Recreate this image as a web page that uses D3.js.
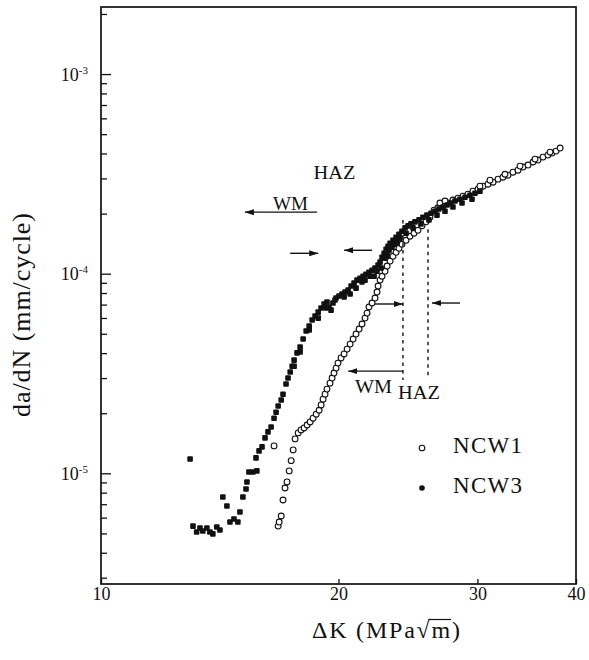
<!DOCTYPE html>
<html><head><meta charset="utf-8">
<script src="https://cdn.jsdelivr.net/npm/d3@7"></script>
<style>
body{margin:0;background:#fff}
svg{display:block}
text{font-family:"Liberation Serif","Times New Roman",serif;fill:#111}
</style>
</head><body>
<svg id="c" width="589" height="660"></svg>
<script>
// ---------- data ----------
const xTickValues = [10, 20, 30, 40];
const xTickLabels = ["10", "20", "30", "40"];
const yTickValues = [1e-5, 1e-4, 1e-3];
const yTickExponents = ["-5", "-4", "-3"];
const seriesNames = ["NCW1", "NCW3"];

const ncw1DeltaK = [
 16.57,16.77,16.82,16.92,17.01,17.11,17.21,17.32,17.42,17.52,
 17.62,17.78,17.93,18.09,18.25,18.41,18.57,18.74,18.90,19.01,
 19.12,19.23,19.34,19.51,19.63,19.74,19.86,19.97,20.15,20.33,
 20.51,20.69,20.87,21.05,21.24,21.42,21.61,21.74,21.86,22.06,
 22.25,22.38,22.45,22.58,22.71,22.91,23.05,23.25,23.45,23.66,
 23.86,24.07,24.36,24.64,24.93,25.22,25.52,25.82,26.12,26.43,
 26.73,27.13,27.53,27.93,28.35,28.76,29.18,29.61,30.05,30.49,
 30.94,31.40,31.86,32.32,32.80,33.28,33.77,34.27,34.78,35.29,
 35.80,36.33,36.86,37.30,37.74,38.19,
 26.89,27.29,31.12,32.51,33.97,35.49,37.08,30.22];
const ncw1Rate = [
 1.372e-5,5.44e-6,5.70e-6,6.11e-6,7.35e-6,8.44e-6,9.05e-6,1.028e-5,1.157e-5,1.31e-5,
 1.487e-5,1.594e-5,1.65e-5,1.687e-5,1.746e-5,1.808e-5,1.888e-5,1.977e-5,2.07e-5,2.20e-5,
 2.353e-5,2.492e-5,2.641e-5,2.83e-5,3.00e-5,3.178e-5,3.365e-5,3.565e-5,3.784e-5,3.963e-5,
 4.19e-5,4.44e-5,4.705e-5,4.985e-5,5.282e-5,5.596e-5,5.99e-5,6.347e-5,6.81e-5,7.13e-5,
 7.55e-5,8.09e-5,8.67e-5,9.29e-5,9.71e-5,1.028e-4,1.092e-4,1.157e-4,1.222e-4,1.28e-4,
 1.34e-4,1.404e-4,1.47e-4,1.54e-4,1.594e-4,1.65e-4,1.736e-4,1.818e-4,1.919e-4,2.08e-4,
 2.134e-4,2.184e-4,2.26e-4,2.34e-4,2.389e-4,2.445e-4,2.502e-4,2.59e-4,2.65e-4,2.744e-4,
 2.807e-4,2.873e-4,2.975e-4,3.044e-4,3.115e-4,3.225e-4,3.30e-4,3.422e-4,3.502e-4,3.626e-4,
 3.71e-4,3.838e-4,3.927e-4,4.019e-4,4.112e-4,4.259e-4,
 2.26e-4,2.313e-4,2.94e-4,3.149e-4,3.46e-4,3.75e-4,4.066e-4,2.744e-4];

const ncw3DeltaK = [
 12.97,13.08,13.22,13.35,13.46,13.62,13.74,13.86,14.02,14.15,
 14.27,14.44,14.57,14.74,14.91,15.00,15.13,15.27,15.31,15.40,
 15.58,15.76,15.72,15.86,16.00,16.14,16.28,16.43,16.57,16.67,
 16.77,16.92,17.01,17.16,17.26,17.37,17.47,17.57,17.72,17.88,
 18.04,18.20,18.36,18.52,18.68,18.85,19.01,19.18,19.34,19.45,
 19.57,19.68,19.86,20.03,20.21,20.39,20.57,20.75,20.93,21.11,
 21.30,21.49,21.67,21.86,22.06,22.25,22.45,22.58,22.71,22.85,
 22.98,23.11,23.25,23.45,23.66,23.86,24.07,24.29,24.50,24.71,
 25.00,25.30,25.59,25.89,26.20,26.50,26.81,27.13,27.45,27.77,
 28.10,28.51,28.93,29.35,29.79,30.22,
 21.42,21.93,22.38,22.91,23.18,23.52,23.93,24.36,24.86,25.44,
 26.04,26.66,27.29,27.93,28.68,29.53,
 19.80,20.33,20.69,21.05,21.61,22.19,22.65,23.05,23.38,23.73,
 18.36,18.85,19.29,17.88,17.57];
const ncw3Rate = [
 1.18e-5,5.44e-6,5.08e-6,5.32e-6,5.14e-6,5.32e-6,5.08e-6,4.97e-6,5.38e-6,5.20e-6,
 7.61e-6,6.86e-6,5.70e-6,5.90e-6,5.70e-6,6.40e-6,7.61e-6,8.35e-6,9.05e-6,1.016e-5,
 1.016e-5,1.028e-5,1.195e-5,1.295e-5,1.356e-5,1.505e-5,1.612e-5,1.707e-5,1.888e-5,2.023e-5,
 2.174e-5,2.33e-5,2.49e-5,2.80e-5,3.00e-5,3.215e-5,3.44e-5,3.69e-5,4.01e-5,4.29e-5,
 4.71e-5,5.16e-5,5.47e-5,5.86e-5,6.13e-5,6.42e-5,6.73e-5,7.05e-5,7.21e-5,6.81e-5,
 6.57e-5,7.13e-5,7.55e-5,7.73e-5,7.91e-5,8.09e-5,8.28e-5,8.67e-5,8.97e-5,9.29e-5,
 9.48e-5,9.71e-5,9.93e-5,1.016e-4,1.04e-4,1.067e-4,1.104e-4,1.143e-4,1.208e-4,1.265e-4,
 1.325e-4,1.372e-4,1.42e-4,1.47e-4,1.522e-4,1.576e-4,1.631e-4,1.696e-4,1.736e-4,1.776e-4,
 1.818e-4,1.86e-4,1.919e-4,1.964e-4,2.009e-4,2.056e-4,2.109e-4,2.159e-4,2.209e-4,2.26e-4,
 2.313e-4,2.362e-4,2.417e-4,2.473e-4,2.531e-4,2.59e-4,
 9.08e-5,9.71e-5,1.028e-4,1.195e-4,1.31e-4,1.404e-4,1.505e-4,1.594e-4,1.696e-4,1.776e-4,
 1.86e-4,1.964e-4,2.056e-4,2.159e-4,2.26e-4,2.362e-4,
 7.38e-5,7.64e-5,7.91e-5,8.47e-5,9.29e-5,9.71e-5,1.067e-4,1.237e-4,1.356e-4,1.437e-4,
 5.22e-5,5.99e-5,6.73e-5,4.06e-5,3.44e-5];

// annotation texts and arrows (data coordinates)
const annoLabels = [
 {text:"HAZ", k:19.77, r:2.975e-4, w:42},
 {text:"WM",  k:17.39, r:2.08e-4,  w:35},
 {text:"WM",  k:22.15, r:2.52e-5,  w:37},
 {text:"HAZ", k:25.30, r:2.36e-5,  w:42}
];
const annoArrows = [ // from k1 to arrow tip k2 at rate r
 {k1:18.79, k2:15.22, r:2.034e-4},
 {k1:17.37, k2:18.85, r:1.265e-4},
 {k1:22.06, k2:20.33, r:1.31e-4},
 {k1:22.25, k2:24.14, r:7.05e-5},
 {k1:28.51, k2:26.27, r:7.13e-5},
 {k1:24.14, k2:20.57, r:3.25e-5}
];
const annoDashed = [
 {k:24.14, r1:1.86e-4, r2:2.93e-5},
 {k:25.97, r1:1.67e-4, r2:3.0e-5}
];

// ---------- layout ----------
const L=101, R=576, T=7, B=584;
const x = d3.scaleLog().domain([10,40]).range([L,R]);
const y = d3.scaleLog().domain([Math.pow(10,-5.5545), Math.pow(10,-2.664)]).range([B,T]);

const svg = d3.select("#c");
const defs = svg.append("defs");
defs.append("marker").attr("id","ah").attr("markerUnits","userSpaceOnUse")
  .attr("viewBox","0 -4 9 8").attr("refX",9).attr("refY",0)
  .attr("markerWidth",9).attr("markerHeight",8).attr("orient","auto")
  .append("path").attr("d","M0,-3L9,0L0,3Z").attr("fill","#111");

// minor ticks
const minor=[];
for(let e=-6;e<=-3;e++) for(let m=2;m<=9;m++){const v=m*Math.pow(10,e); if(v>y.domain()[0]&&v<y.domain()[1]) minor.push(v);}

const gLeftMinor = svg.append("g").attr("transform",`translate(${L},0)`)
  .call(d3.axisLeft(y).tickValues(minor).tickSizeInner(-6).tickSizeOuter(0).tickFormat(""));
const gLeftMajor = svg.append("g").attr("transform",`translate(${L},0)`)
  .call(d3.axisLeft(y).tickValues(yTickValues).tickSizeInner(-10).tickSizeOuter(0).tickFormat(""));
const gBottom = svg.append("g").attr("transform",`translate(0,${B})`)
  .call(d3.axisBottom(x).tickValues(xTickValues).tickSizeInner(-5).tickSizeOuter(0)
    .tickPadding(3).tickFormat((d,i)=>xTickLabels[i]));
[gLeftMinor,gLeftMajor,gBottom].forEach(g=>{
  g.select(".domain").remove();
  g.selectAll(".tick line").attr("stroke","#111").attr("stroke-width",1.3);
});
gBottom.selectAll(".tick text").attr("font-size",18).attr("fill","#111")
  .attr("font-family","Liberation Serif, Times New Roman, serif");

// frame
svg.append("rect").attr("x",L).attr("y",T).attr("width",R-L).attr("height",B-T)
  .attr("fill","none").attr("stroke","#111").attr("stroke-width",1.7);

// y tick labels with superscripts
yTickValues.forEach((v,i)=>{
  const t = svg.append("text").attr("x",88).attr("y",y(v)+6.5)
    .attr("text-anchor","end").attr("font-size",18);
  t.append("tspan").text("10");
  t.append("tspan").attr("dy",-7).attr("font-size",11).text(yTickExponents[i]);
});

// axis titles
svg.append("text").attr("transform","translate(30,315) rotate(-90)")
  .attr("text-anchor","middle").attr("font-size",26)
  .attr("textLength",204).attr("lengthAdjust","spacing")
  .text("da/dN (mm/cycle)");

const xt = svg.append("text").attr("x",312).attr("y",638).attr("font-size",24)
  .attr("textLength",148).attr("lengthAdjust","spacing")
  .text("ΔK (MPa√m)");
// overline over the "m" under the radical
(function(){
  const node = xt.node();
  const s = "ΔK (MPa√m)";
  const im = s.indexOf("m");
  const ir = s.indexOf("√");
  const er = node.getExtentOfChar(ir);
  const em = node.getExtentOfChar(im);
  svg.append("line").attr("x1",er.x+er.width-1).attr("x2",em.x+em.width+1)
    .attr("y1",er.y+2.5).attr("y2",er.y+2.5).attr("stroke","#111").attr("stroke-width",1.2);
})();

// series
const ncw1 = ncw1DeltaK.map((k,i)=>({k, r:ncw1Rate[i]}));
const ncw3 = ncw3DeltaK.map((k,i)=>({k, r:ncw3Rate[i]}));

svg.append("g").selectAll("circle").data(ncw1).join("circle")
  .attr("cx",d=>x(d.k)).attr("cy",d=>y(d.r)).attr("r",2.9)
  .attr("fill","#fff").attr("stroke","#111").attr("stroke-width",1.1);

svg.append("g").selectAll("rect").data(ncw3).join("rect")
  .attr("x",d=>x(d.k)-2.8).attr("y",d=>y(d.r)-2.8).attr("width",5.6).attr("height",5.6)
  .attr("rx",1).attr("fill","#111");

// annotations
annoDashed.forEach(d=>{
  svg.append("line").attr("x1",x(d.k)).attr("x2",x(d.k)).attr("y1",y(d.r1)).attr("y2",y(d.r2))
    .attr("stroke","#111").attr("stroke-width",1.4).attr("stroke-dasharray","3.5,4");
});
annoArrows.forEach(d=>{
  svg.append("line").attr("x1",x(d.k1)).attr("x2",x(d.k2)).attr("y1",y(d.r)).attr("y2",y(d.r))
    .attr("stroke","#111").attr("stroke-width",1.4).attr("marker-end","url(#ah)");
});
annoLabels.forEach(d=>{
  svg.append("text").attr("x",x(d.k)-d.w/2).attr("y",y(d.r)).attr("font-size",19)
    .attr("textLength",d.w).attr("lengthAdjust","spacingAndGlyphs").text(d.text);
});

// legend
const lg = svg.append("g");
lg.append("circle").attr("cx",422).attr("cy",448).attr("r",2.8)
  .attr("fill","#fff").attr("stroke","#111").attr("stroke-width",1.1);
lg.append("circle").attr("cx",422).attr("cy",488).attr("r",2.8).attr("fill","#111");
seriesNames.forEach((n,i)=>{
  lg.append("text").attr("x",453).attr("y",453+i*40).attr("font-size",23)
    .attr("textLength",69).attr("lengthAdjust","spacing").text(n);
});
</script>
</body></html>
